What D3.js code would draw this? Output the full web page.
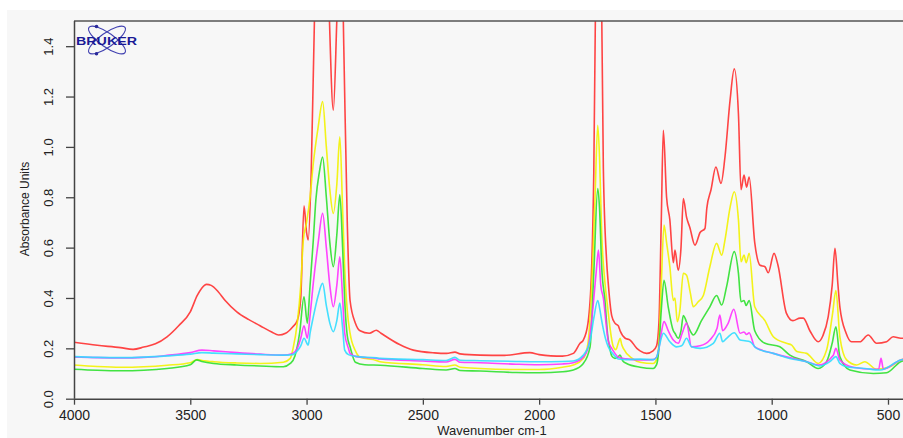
<!DOCTYPE html>
<html>
<head>
<meta charset="utf-8">
<script src="https://cdn.jsdelivr.net/npm/d3@7"></script>
<style>
html,body{margin:0;padding:0;background:#fff;}
svg{display:block;}
text{font-family:"Liberation Sans",Arial,sans-serif;}
</style>
</head>
<body>
<svg id="chart" width="903" height="438"></svg>
<script>
// ---- data (wavenumber cm-1, absorbance) ----
const xTicks = [4000, 3500, 3000, 2500, 2000, 1500, 1000, 500];
const yTicks = [0.0, 0.2, 0.4, 0.6, 0.8, 1.0, 1.2, 1.4];

const redSeries = [[4000,0.224],[3900,0.212],[3800,0.203],[3746,0.196],[3700,0.205],[3650,0.218],[3600,0.246],[3550,0.29],[3500,0.345],[3470,0.41],[3450,0.44],[3430,0.454],[3410,0.45],[3380,0.425],[3350,0.39],[3300,0.345],[3250,0.315],[3200,0.29],[3150,0.265],[3120,0.253],[3090,0.26],[3060,0.285],[3040,0.31],[3025,0.40],[3011,0.766],[3000,0.66],[2993,0.63],[2980,0.9],[2964,1.6],[2950,2.0],[2925,2.2],[2905,1.6],[2885,1.146],[2870,1.5],[2853,2.0],[2840,1.4],[2825,0.7],[2813,0.39],[2790,0.3],[2770,0.27],[2730,0.26],[2700,0.272],[2680,0.26],[2600,0.215],[2541,0.193],[2450,0.182],[2398,0.18],[2362,0.185],[2340,0.178],[2254,0.173],[2150,0.172],[2040,0.183],[2000,0.175],[1950,0.17],[1900,0.169],[1853,0.18],[1824,0.22],[1810,0.233],[1790,0.30],[1775,0.5],[1765,0.9],[1755,1.8],[1745,2.2],[1735,1.9],[1724,0.92],[1710,0.55],[1703,0.46],[1688,0.33],[1674,0.3],[1660,0.29],[1652,0.27],[1630,0.24],[1609,0.233],[1580,0.2],[1566,0.19],[1538,0.18],[1510,0.19],[1495,0.21],[1485,0.30],[1475,0.7],[1466,1.066],[1452,0.80],[1438,0.71],[1423,0.54],[1416,0.59],[1402,0.51],[1390,0.60],[1380,0.795],[1366,0.72],[1352,0.68],[1330,0.61],[1308,0.66],[1287,0.676],[1279,0.757],[1261,0.83],[1240,0.92],[1218,0.855],[1201,0.96],[1179,1.186],[1161,1.31],[1143,1.13],[1132,0.83],[1119,0.888],[1108,0.84],[1097,0.88],[1073,0.62],[1050,0.53],[1029,0.524],[1015,0.50],[990,0.577],[973,0.53],[937,0.34],[909,0.31],[878,0.32],[864,0.32],[836,0.27],[800,0.226],[780,0.25],[757,0.326],[740,0.45],[728,0.597],[715,0.45],[707,0.365],[680,0.26],[657,0.226],[621,0.226],[585,0.253],[549,0.22],[506,0.226],[478,0.246],[445,0.24],[400,0.24]];

const yellowSeries = [[4000,0.134],[3900,0.128],[3800,0.125],[3700,0.127],[3600,0.133],[3500,0.143],[3470,0.155],[3450,0.152],[3400,0.147],[3300,0.142],[3200,0.14],[3100,0.145],[3070,0.16],[3058,0.2],[3040,0.30],[3025,0.45],[3014,0.63],[3000,0.70],[2985,0.80],[2971,0.935],[2950,1.08],[2931,1.18],[2915,1.0],[2900,0.83],[2885,0.736],[2870,0.85],[2857,1.04],[2845,0.75],[2836,0.52],[2825,0.35],[2813,0.26],[2790,0.19],[2770,0.165],[2700,0.152],[2684,0.147],[2500,0.135],[2400,0.128],[2362,0.134],[2340,0.125],[2254,0.12],[2100,0.116],[2000,0.116],[1900,0.125],[1853,0.134],[1810,0.16],[1790,0.22],[1777,0.39],[1760,0.79],[1748,1.086],[1740,0.95],[1731,0.657],[1717,0.46],[1705,0.36],[1696,0.286],[1681,0.206],[1670,0.195],[1660,0.22],[1652,0.24],[1645,0.215],[1638,0.2],[1600,0.16],[1566,0.145],[1510,0.14],[1495,0.155],[1485,0.22],[1475,0.45],[1463,0.69],[1452,0.62],[1438,0.524],[1423,0.39],[1416,0.40],[1406,0.306],[1395,0.35],[1380,0.498],[1366,0.49],[1350,0.42],[1337,0.365],[1316,0.385],[1294,0.41],[1266,0.524],[1237,0.617],[1215,0.57],[1201,0.63],[1179,0.76],[1161,0.822],[1143,0.71],[1132,0.544],[1119,0.57],[1110,0.54],[1097,0.577],[1073,0.365],[1029,0.31],[993,0.246],[937,0.22],[914,0.213],[892,0.187],[850,0.18],[800,0.14],[764,0.193],[738,0.34],[724,0.43],[707,0.246],[678,0.154],[635,0.134],[600,0.147],[549,0.117],[491,0.127],[445,0.154],[400,0.16]];

const greenSeries = [[4000,0.117],[3900,0.113],[3800,0.111],[3700,0.113],[3600,0.12],[3500,0.135],[3473,0.154],[3450,0.148],[3400,0.14],[3300,0.134],[3200,0.13],[3100,0.127],[3070,0.14],[3050,0.17],[3030,0.26],[3011,0.405],[2997,0.30],[2985,0.45],[2971,0.63],[2960,0.79],[2945,0.90],[2931,0.96],[2915,0.80],[2900,0.62],[2885,0.524],[2870,0.65],[2857,0.81],[2845,0.6],[2836,0.39],[2825,0.25],[2813,0.206],[2790,0.145],[2750,0.135],[2684,0.133],[2500,0.12],[2400,0.114],[2362,0.12],[2340,0.112],[2254,0.11],[2100,0.104],[2000,0.103],[1900,0.107],[1853,0.114],[1810,0.14],[1781,0.206],[1765,0.5],[1748,0.835],[1740,0.75],[1731,0.524],[1717,0.39],[1705,0.25],[1696,0.2],[1688,0.17],[1674,0.16],[1660,0.167],[1652,0.173],[1640,0.15],[1624,0.14],[1566,0.125],[1510,0.12],[1495,0.135],[1485,0.2],[1475,0.35],[1463,0.47],[1445,0.365],[1423,0.27],[1416,0.26],[1402,0.24],[1390,0.27],[1380,0.33],[1359,0.286],[1337,0.253],[1302,0.31],[1266,0.365],[1237,0.41],[1215,0.372],[1194,0.445],[1161,0.584],[1143,0.498],[1132,0.385],[1119,0.39],[1110,0.37],[1097,0.39],[1073,0.27],[1029,0.22],[965,0.206],[922,0.173],[850,0.147],[800,0.12],[764,0.147],[740,0.22],[724,0.286],[707,0.167],[664,0.114],[563,0.1],[506,0.103],[445,0.147],[400,0.155]];

const magentaSeries = [[4000,0.165],[3900,0.163],[3800,0.162],[3700,0.164],[3600,0.172],[3500,0.183],[3450,0.193],[3400,0.19],[3300,0.183],[3200,0.177],[3100,0.173],[3060,0.18],[3040,0.2],[3025,0.24],[3011,0.29],[2997,0.24],[2985,0.33],[2971,0.46],[2950,0.62],[2931,0.736],[2915,0.6],[2900,0.45],[2885,0.365],[2870,0.45],[2857,0.564],[2845,0.4],[2836,0.26],[2820,0.2],[2813,0.18],[2790,0.168],[2700,0.16],[2684,0.158],[2500,0.15],[2400,0.146],[2362,0.156],[2340,0.145],[2254,0.143],[2100,0.137],[2000,0.135],[1900,0.138],[1853,0.143],[1810,0.165],[1790,0.2],[1770,0.35],[1755,0.5],[1745,0.59],[1735,0.45],[1724,0.40],[1710,0.28],[1703,0.23],[1688,0.2],[1674,0.18],[1660,0.165],[1624,0.158],[1566,0.154],[1510,0.155],[1495,0.165],[1485,0.2],[1475,0.26],[1463,0.306],[1445,0.27],[1423,0.233],[1402,0.22],[1385,0.26],[1366,0.30],[1345,0.206],[1308,0.21],[1266,0.233],[1235,0.28],[1223,0.332],[1211,0.27],[1187,0.30],[1163,0.355],[1136,0.26],[1119,0.265],[1108,0.255],[1097,0.262],[1073,0.206],[993,0.18],[850,0.147],[800,0.134],[735,0.173],[724,0.2],[707,0.154],[650,0.125],[563,0.117],[540,0.118],[530,0.16],[520,0.118],[445,0.154],[400,0.16]];

const cyanSeries = [[4000,0.167],[3900,0.164],[3800,0.163],[3700,0.165],[3600,0.17],[3500,0.177],[3450,0.183],[3400,0.181],[3300,0.178],[3200,0.175],[3100,0.173],[3060,0.175],[3040,0.19],[3025,0.21],[3011,0.24],[2993,0.213],[2985,0.26],[2971,0.325],[2950,0.41],[2931,0.458],[2915,0.37],[2900,0.30],[2885,0.266],[2870,0.31],[2857,0.38],[2845,0.28],[2836,0.193],[2820,0.175],[2790,0.168],[2700,0.162],[2684,0.16],[2500,0.155],[2400,0.152],[2362,0.164],[2340,0.153],[2254,0.151],[2100,0.148],[2000,0.147],[1900,0.148],[1853,0.15],[1810,0.173],[1781,0.23],[1765,0.32],[1748,0.39],[1740,0.36],[1731,0.31],[1715,0.24],[1703,0.206],[1680,0.175],[1660,0.158],[1624,0.155],[1566,0.157],[1510,0.155],[1495,0.165],[1485,0.2],[1475,0.24],[1466,0.26],[1438,0.226],[1409,0.206],[1387,0.21],[1366,0.24],[1345,0.206],[1308,0.2],[1251,0.22],[1223,0.26],[1211,0.226],[1194,0.24],[1161,0.262],[1136,0.233],[1115,0.23],[1093,0.226],[1065,0.2],[993,0.18],[922,0.16],[850,0.147],[793,0.13],[750,0.147],[724,0.167],[707,0.14],[678,0.127],[600,0.12],[534,0.114],[445,0.154],[400,0.16]];

const seriesColors = ["#ff3030", "#f2f200", "#2ee02e", "#ff30ff", "#30dcff"];
const seriesList = [redSeries, yellowSeries, greenSeries, magentaSeries, cyanSeries];

// ---- layout ----
const W = 903, H = 438;
const plotLeft = 74, plotTop = 21, plotBottom = 398.7;
const svg = d3.select("#chart");

svg.append("rect").attr("x", 7).attr("y", 10).attr("width", W - 7).attr("height", H - 10).attr("fill", "#f7f7f7");

const x = d3.scaleLinear().domain([4000, 400]).range([plotLeft, plotLeft + 3600 * 0.23257]);
const y = d3.scaleLinear().domain([0, 1.5]).range([plotBottom, plotTop]);

svg.append("clipPath").attr("id", "plotclip")
  .append("rect").attr("x", plotLeft).attr("y", plotTop).attr("width", W - plotLeft).attr("height", plotBottom - plotTop);

const line = d3.line().x(d => x(d[0])).y(d => y(d[1])).curve(d3.curveMonotoneX);
const g = svg.append("g").attr("clip-path", "url(#plotclip)");
seriesList.forEach((s, i) => {
  g.append("path").attr("d", line(s)).attr("fill", "none")
    .attr("stroke", seriesColors[i]).attr("stroke-width", 1.6)
    .attr("stroke-opacity", 0.9).attr("stroke-linejoin", "round");
});

// frame top
svg.append("line").attr("x1", plotLeft).attr("x2", W).attr("y1", plotTop).attr("y2", plotTop).attr("stroke", "#555").attr("stroke-width", 1.5);

// x axis
const xAxis = d3.axisBottom(x).tickValues(xTicks).tickSize(6).tickPadding(5).tickFormat(d3.format("d"));
const xg = svg.append("g").attr("transform", `translate(0,${plotBottom})`).call(xAxis);
xg.select(".domain").attr("d", `M${plotLeft},0.5H${W}`).attr("stroke", "#444").attr("stroke-width", 1.5);
xg.selectAll(".tick line").attr("stroke", "#444").attr("stroke-width", 1.3);
xg.selectAll(".tick text").attr("font-size", 14).attr("fill", "#222").attr("font-family", "Liberation Sans, Arial, sans-serif");

// y axis
const yAxis = d3.axisLeft(y).tickValues(yTicks).tickSize(8).tickFormat(d3.format(".1f"));
const yg = svg.append("g").attr("transform", `translate(${plotLeft},0)`).call(yAxis);
yg.select(".domain").attr("d", `M0.5,${plotTop}V${plotBottom}`).attr("stroke", "#444").attr("stroke-width", 1.5);
yg.selectAll(".tick line").attr("stroke", "#444").attr("stroke-width", 1.3);
yg.selectAll(".tick text")
  .attr("x", null)
  .attr("text-anchor", "middle")
  .attr("transform", "translate(-26,0) rotate(-90)")
  .attr("dy", "0.36em")
  .attr("font-size", 13).attr("fill", "#222").attr("font-family", "Liberation Sans, Arial, sans-serif");

// axis titles
svg.append("text").attr("x", 492).attr("y", 435).attr("text-anchor", "middle")
  .attr("font-size", 13).attr("fill", "#222").text("Wavenumber cm-1");
svg.append("text").attr("transform", "translate(25,209) rotate(-90)").attr("text-anchor", "middle")
  .attr("dy", "0.36em").attr("font-size", 12).attr("fill", "#222").text("Absorbance Units");

// Bruker logo
const logo = svg.append("g");
[35, -35].forEach(a => {
  logo.append("ellipse").attr("cx", 107).attr("cy", 40).attr("rx", 22).attr("ry", 7)
    .attr("transform", `rotate(${a},107,40)`).attr("fill", "none").attr("stroke", "#4040b0").attr("stroke-width", 1.1);
});
logo.append("circle").attr("cx", 96.5).attr("cy", 26.5).attr("r", 1.8).attr("fill", "#2a2a9a");
logo.append("circle").attr("cx", 96.5).attr("cy", 53.8).attr("r", 1.8).attr("fill", "#2a2a9a");
logo.append("text").attr("x", 76).attr("y", 44.5).attr("font-size", 11).attr("font-weight", "bold")
  .attr("fill", "#1a1a96").attr("textLength", 61).attr("lengthAdjust", "spacingAndGlyphs").text("BRUKER");
</script>
</body>
</html>
